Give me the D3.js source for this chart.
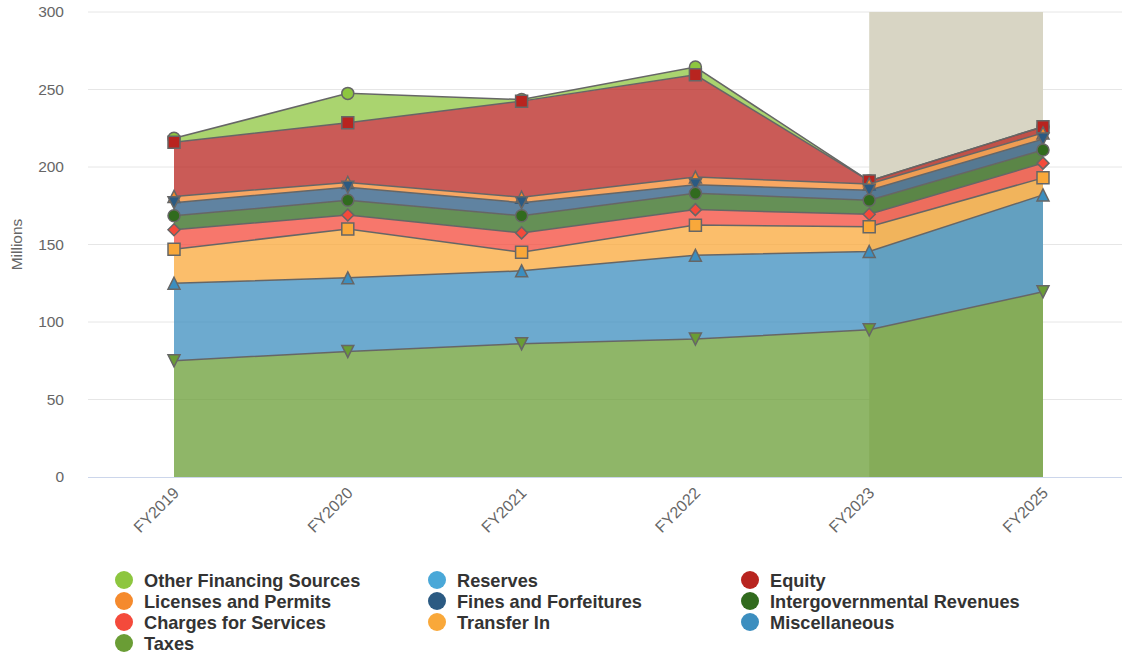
<!DOCTYPE html>
<html>
<head>
<meta charset="utf-8">
<script src="https://cdn.jsdelivr.net/npm/d3@7"></script>
<style>
  html, body { margin: 0; padding: 0; background: #fff; }
  svg { display: block; font-family: "Liberation Sans", Arial, Helvetica, sans-serif; }
</style>
</head>
<body>
<svg id="chart" width="1122" height="656"></svg>
<script>
// Fiscal years on the category axis
const categories = ["FY2019", "FY2020", "FY2021", "FY2022", "FY2023", "FY2025"];

// Revenue sources, in millions (listed top of stack first)
const otherFinancingSources = [2.5, 19, 1, 5, 0, 0];
const reserves = [null, null, null, null, null, null];
const equity = [35, 38.5, 62, 66, 2, 4];
const licensesAndPermits = [4, 3, 3.5, 5, 4, 4];
const finesAndForfeitures = [8.5, 8.5, 8.5, 5.5, 6.5, 7];
const intergovernmentalRevenues = [9, 9.5, 11, 10.5, 9, 8.5];
const chargesForServices = [12.5, 9, 12.5, 10, 8, 9.5];
const transferIn = [22, 31.5, 12, 19.5, 16, 11];
const miscellaneous = [50, 47.5, 47, 54, 50.5, 62.5];
const taxes = [75, 81, 86, 89, 95, 119.5];

const yTicks = [0, 50, 100, 150, 200, 250, 300];
const bandRange = ["FY2023", "FY2025"];

const series = [
  { name: "Other Financing Sources", values: otherFinancingSources, color: "#8dc63f", symbol: "circle" },
  { name: "Reserves", values: reserves, color: "#4aa8d8", symbol: "diamond" },
  { name: "Equity", values: equity, color: "#b8241f", symbol: "square" },
  { name: "Licenses and Permits", values: licensesAndPermits, color: "#f58a2d", symbol: "triangle" },
  { name: "Fines and Forfeitures", values: finesAndForfeitures, color: "#2b5a82", symbol: "triangle-down" },
  { name: "Intergovernmental Revenues", values: intergovernmentalRevenues, color: "#316b1e", symbol: "circle" },
  { name: "Charges for Services", values: chargesForServices, color: "#f44a3b", symbol: "diamond" },
  { name: "Transfer In", values: transferIn, color: "#f9a83a", symbol: "square" },
  { name: "Miscellaneous", values: miscellaneous, color: "#3c8ebf", symbol: "triangle" },
  { name: "Taxes", values: taxes, color: "#6a9d35", symbol: "triangle-down" }
];

const svg = d3.select("#chart");
const plot = { left: 88, right: 1122, top: 12, bottom: 477 };

const x = d3.scalePoint().domain(categories).range([174, 1043]);
const y = d3.scaleLinear().domain([0, 300]).range([plot.bottom, plot.top]);

// Horizontal grid
svg.append("g").selectAll("line").data(yTicks.filter(d => d > 0)).join("line")
  .attr("x1", plot.left).attr("x2", plot.right)
  .attr("y1", d => y(d)).attr("y2", d => y(d))
  .attr("stroke", "#e6e6e6").attr("stroke-width", 1);

// Highlighted forecast period
svg.append("rect")
  .attr("x", x(bandRange[0])).attr("y", plot.top)
  .attr("width", x(bandRange[1]) - x(bandRange[0]))
  .attr("height", plot.bottom - plot.top)
  .attr("fill", "#d8d5c4");

// Stack with the last-listed series at the bottom
const bottomUp = series.slice().reverse();
const rows = categories.map((c, i) => {
  const r = { cat: c };
  bottomUp.forEach(s => { r[s.name] = s.values[i] == null ? 0 : s.values[i]; });
  return r;
});
const stacked = d3.stack().keys(bottomUp.map(s => s.name))(rows);
const layerByName = {};
stacked.forEach(l => { layerByName[l.key] = l; });

const area = d3.area()
  .x((d, i) => x(categories[i]))
  .y0(d => y(d[0]))
  .y1(d => y(d[1]));
const topLine = d3.line()
  .x((d, i) => x(categories[i]))
  .y(d => y(d[1]));

const symbolPath = {
  "circle": r => `M${-r},0a${r},${r} 0 1,0 ${2 * r},0a${r},${r} 0 1,0 ${-2 * r},0Z`,
  "square": r => `M${-r},${-r}H${r}V${r}H${-r}Z`,
  "diamond": r => `M0,${-r}L${r},0L0,${r}L${-r},0Z`,
  "triangle": r => `M0,${-r}L${r},${r}L${-r},${r}Z`,
  "triangle-down": r => `M${-r},${-r}L${r},${-r}L0,${r}Z`
};

// Draw each series in list order so later ones sit on top
series.forEach(s => {
  const hasData = s.values.some(v => v != null);
  if (!hasData) return;
  const layer = layerByName[s.name];
  const g = svg.append("g");
  g.append("path").datum(layer)
    .attr("d", area)
    .attr("fill", s.color).attr("fill-opacity", 0.75);
  g.append("path").datum(layer)
    .attr("d", topLine)
    .attr("fill", "none").attr("stroke", "#666").attr("stroke-width", 1.5);
  g.selectAll("path.marker").data(layer).join("path")
    .attr("class", "marker")
    .attr("transform", (d, i) => `translate(${x(categories[i])},${y(d[1])})`)
    .attr("d", symbolPath[s.symbol](6))
    .attr("fill", s.color).attr("stroke", "#666").attr("stroke-width", 1.5);
});

// Axis baseline
svg.append("line")
  .attr("x1", plot.left).attr("x2", plot.right)
  .attr("y1", plot.bottom + 0.5).attr("y2", plot.bottom + 0.5)
  .attr("stroke", "#ccd6eb").attr("stroke-width", 1);

// Y tick labels
svg.append("g").selectAll("text").data(yTicks).join("text")
  .attr("x", 64).attr("y", d => y(d) + 5)
  .attr("text-anchor", "end")
  .attr("font-size", "15.5px").attr("fill", "#666")
  .text(d => d);

svg.append("text")
  .attr("transform", `translate(22,${(plot.top + plot.bottom) / 2}) rotate(-90)`)
  .attr("text-anchor", "middle")
  .attr("font-size", "15.5px").attr("fill", "#666")
  .text("Millions");

// X tick labels
svg.append("g").selectAll("text").data(categories).join("text")
  .attr("transform", d => `translate(${x(d) + 6},${494}) rotate(-45)`)
  .attr("text-anchor", "end")
  .attr("font-size", "16px").attr("fill", "#666")
  .text(d => d);

// Legend, three columns
const legendCols = [124, 437, 750];
const legend = svg.append("g").selectAll("g").data(series).join("g")
  .attr("transform", (d, i) => `translate(${legendCols[i % 3]},${580 + Math.floor(i / 3) * 21})`);
legend.append("circle").attr("r", 9).attr("fill", d => d.color);
legend.append("text")
  .attr("x", 20).attr("y", 6.5)
  .attr("font-size", "18.2px").attr("font-weight", "bold").attr("fill", "#333")
  .text(d => d.name);
</script>
</body>
</html>
